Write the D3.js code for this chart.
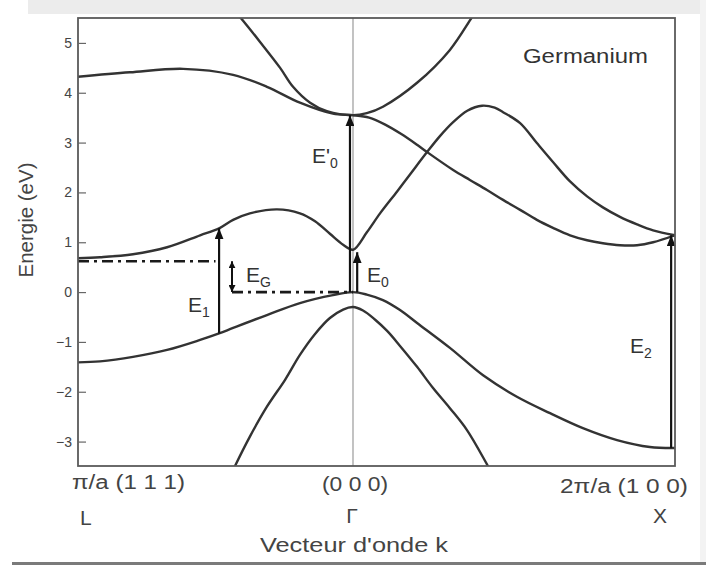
<!DOCTYPE html>
<html>
<head>
<meta charset="utf-8">
<script src="https://cdn.jsdelivr.net/npm/d3@7"></script>
<style>
  body { margin: 0; background: #fff; }
  svg { display: block; }
</style>
</head>
<body>
<svg id="chart" width="706" height="565"></svg>
<script>
// Band structure of germanium along L – Γ – X.
// k is measured along the path: L = -1, Γ = 0, X = +1. Energies in eV.

const yTicks = [-3, -2, -1, 0, 1, 2, 3, 4, 5];

// lowest conduction band (L valley, local minimum at Γ)
const bandCondLow = [
  [-1, 0.68], [-0.92, 0.70], [-0.80, 0.76], [-0.676, 0.90], [-0.556, 1.14],
  [-0.487, 1.28], [-0.436, 1.45], [-0.375, 1.58], [-0.276, 1.66], [-0.193, 1.58],
  [-0.138, 1.42], [-0.084, 1.17], [-0.036, 0.95], [0, 0.85],
  [0.043, 1.20], [0.084, 1.58], [0.137, 2.02], [0.177, 2.36], [0.230, 2.81],
  [0.270, 3.13], [0.311, 3.41], [0.355, 3.64], [0.401, 3.74], [0.440, 3.70],
  [0.466, 3.61], [0.519, 3.39], [0.571, 2.99], [0.621, 2.61], [0.674, 2.22],
  [0.727, 1.92], [0.776, 1.70], [0.829, 1.51], [0.882, 1.36], [0.932, 1.24],
  [1, 1.14]
];

// second conduction band (flat along Λ, crossing along Δ)
const bandCondMid = [
  [-1, 4.32], [-0.811, 4.41], [-0.618, 4.48], [-0.436, 4.36], [-0.313, 4.12],
  [-0.193, 3.80], [-0.073, 3.58], [0, 3.55], [0.05, 3.50], [0.10, 3.36],
  [0.15, 3.17], [0.20, 2.95], [0.230, 2.81], [0.311, 2.45], [0.363, 2.25],
  [0.416, 2.05], [0.466, 1.85], [0.519, 1.65], [0.571, 1.45], [0.621, 1.29],
  [0.674, 1.14], [0.727, 1.04], [0.776, 0.98], [0.829, 0.94], [0.882, 0.94],
  [0.932, 1.00], [1, 1.14]
];

// upper conduction band (parabola-like around Γ)
const bandCondHigh = [
  [-0.447, 5.75], [-0.411, 5.52], [-0.338, 5.02], [-0.265, 4.50], [-0.218, 4.12],
  [-0.156, 3.80], [-0.095, 3.63], [0, 3.55], [0.043, 3.59], [0.093, 3.72],
  [0.199, 4.20], [0.301, 4.86], [0.370, 5.52], [0.394, 5.75]
];

// top valence band (maximum at Γ)
const bandValTop = [
  [-1, -1.41], [-0.92, -1.39], [-0.80, -1.30], [-0.676, -1.16], [-0.556, -0.96],
  [-0.487, -0.83], [-0.436, -0.72], [-0.313, -0.46], [-0.193, -0.22],
  [-0.073, -0.06], [0, 0], [0.043, -0.05], [0.093, -0.16], [0.146, -0.36],
  [0.199, -0.62], [0.301, -1.12], [0.404, -1.67], [0.509, -2.10], [0.612, -2.43],
  [0.714, -2.73], [0.820, -2.97], [0.922, -3.11], [1, -3.13]
];

// second valence band (rounded peak just below the top at Γ)
const bandValLow = [
  [-0.455, -3.80], [-0.429, -3.49], [-0.375, -2.90], [-0.313, -2.30],
  [-0.247, -1.76], [-0.193, -1.26], [-0.138, -0.84], [-0.084, -0.52],
  [-0.036, -0.35], [0, -0.30], [0.031, -0.37], [0.068, -0.55], [0.106, -0.78],
  [0.146, -1.08], [0.199, -1.50], [0.248, -1.92], [0.301, -2.33],
  [0.354, -2.77], [0.419, -3.49], [0.45, -3.85]
];

const bands = [bandCondLow, bandCondMid, bandCondHigh, bandValTop, bandValLow];

// optical transitions: position along k, start and end energies
const transE1 = { k: -0.487, from: -0.83, to: 1.28 };
const transE0p = { k: -0.011, from: 0, to: 3.55 };
const transE0 = { k: 0.013, from: 0, to: 0.80 };
const transE2 = { k: 0.988, from: -3.13, to: 1.14 };
const gapEG = { k: -0.44, from: 0.62, to: 0 };

// reference levels of the indirect gap (conduction minimum at L, valence maximum at Γ)
const levelCondL = { k0: -1, k1: -0.50, e: 0.62 };
const levelValG = { k0: -0.44, k1: 0, e: 0 };

const svg = d3.select("#chart");
const W = 706, H = 565;
const fontFam = "'Liberation Sans', Arial, Helvetica, sans-serif";

// background tint at the edges of the sheet
svg.append("rect").attr("x", 0).attr("y", 0).attr("width", W).attr("height", H).attr("fill", "#fff");
svg.append("rect").attr("x", 28).attr("y", 0).attr("width", W - 28).attr("height", 14).attr("fill", "#ececec");
svg.append("rect").attr("x", 700).attr("y", 0).attr("width", 6).attr("height", H).attr("fill", "#f3f3f3");
svg.append("rect").attr("x", 12).attr("y", 562).attr("width", W - 12).attr("height", 3).attr("fill", "#7a7a7a");

const x = d3.scaleLinear().domain([-1, 0, 1]).range([78, 353, 675]);
const y = d3.scaleLinear().domain([-3.49, 5.50]).range([466, 18]);

const [x0, x1] = [x(-1), x(1)];
const [yTop, yBot] = [y(5.50), y(-3.49)];

const defs = svg.append("defs");
defs.append("clipPath").attr("id", "plotClip")
  .append("rect").attr("x", x0).attr("y", yTop).attr("width", x1 - x0).attr("height", yBot - yTop);

function marker(id, w, h) {
  defs.append("marker").attr("id", id)
    .attr("markerUnits", "userSpaceOnUse")
    .attr("markerWidth", w).attr("markerHeight", h)
    .attr("refX", w).attr("refY", h / 2)
    .attr("orient", "auto-start-reverse")
    .append("path").attr("d", `M0,0 L${w},${h / 2} L0,${h} Z`).attr("fill", "#111");
}
marker("head", 11, 9);
marker("headSmall", 7, 7);

// Γ line
svg.append("line")
  .attr("x1", x(0)).attr("x2", x(0)).attr("y1", yTop).attr("y2", yBot)
  .attr("stroke", "#9a9a9a").attr("stroke-width", 1.2);

// bands
const line = d3.line().x(d => x(d[0])).y(d => y(d[1])).curve(d3.curveCatmullRom.alpha(0.5));
svg.append("g").attr("clip-path", "url(#plotClip)")
  .selectAll("path").data(bands).join("path")
  .attr("d", line)
  .attr("fill", "none")
  .attr("stroke", "#333")
  .attr("stroke-width", 2.4)
  .attr("stroke-linejoin", "round");

// dash-dot reference levels
[levelCondL, levelValG].forEach(l => {
  svg.append("line")
    .attr("x1", x(l.k0)).attr("x2", x(l.k1)).attr("y1", y(l.e)).attr("y2", y(l.e))
    .attr("stroke", "#1a1a1a").attr("stroke-width", 2.6)
    .attr("stroke-dasharray", "11,5,3,5");
});

// transition arrows
[transE1, transE0p, transE0, transE2].forEach(t => {
  svg.append("line")
    .attr("x1", x(t.k)).attr("x2", x(t.k)).attr("y1", y(t.from)).attr("y2", y(t.to))
    .attr("stroke", "#111").attr("stroke-width", 2.2)
    .attr("marker-end", "url(#head)");
});
svg.append("line")
  .attr("x1", x(gapEG.k)).attr("x2", x(gapEG.k)).attr("y1", y(gapEG.from)).attr("y2", y(gapEG.to))
  .attr("stroke", "#111").attr("stroke-width", 2)
  .attr("marker-start", "url(#headSmall)")
  .attr("marker-end", "url(#headSmall)");

// frame
svg.append("rect")
  .attr("x", x0).attr("y", yTop).attr("width", x1 - x0).attr("height", yBot - yTop)
  .attr("fill", "none").attr("stroke", "#5a5a5a").attr("stroke-width", 1.8);

// energy axis with inward ticks
const yAxis = d3.axisLeft(y).tickValues(yTicks).tickSize(-8).tickPadding(6);
const gy = svg.append("g").attr("transform", `translate(${x0},0)`).call(yAxis);
gy.select(".domain").remove();
gy.selectAll(".tick line").attr("stroke", "#666").attr("stroke-width", 1.2);
gy.selectAll(".tick text")
  .attr("font-family", fontFam).attr("font-size", 14).attr("fill", "#444");

// text helpers
function label(txt, xp, yp, size, opts = {}) {
  const t = svg.append("text")
    .attr("x", xp).attr("y", yp)
    .attr("font-family", fontFam).attr("font-size", size)
    .attr("fill", opts.fill || "#333")
    .attr("text-anchor", opts.anchor || "start")
    .text(txt);
  if (opts.len) t.attr("textLength", opts.len).attr("lengthAdjust", "spacingAndGlyphs");
  return t;
}
function subLabel(main, sub, xp, yp) {
  const t = svg.append("text")
    .attr("x", xp).attr("y", yp)
    .attr("font-family", fontFam).attr("font-size", 21).attr("fill", "#333");
  t.append("tspan").text(main);
  t.append("tspan").attr("font-size", 14).attr("dy", 5).text(sub);
  return t;
}

label("Germanium", 523, 63, 20, { len: 125 });

svg.append("text")
  .attr("transform", "translate(33,220) rotate(-90)")
  .attr("font-family", fontFam).attr("font-size", 20).attr("fill", "#444")
  .attr("text-anchor", "middle")
  .attr("textLength", 115).attr("lengthAdjust", "spacingAndGlyphs")
  .text("Energie (eV)");

label("π/a (1 1 1)", 72, 489, 20, { len: 113, fill: "#444" });
label("(0 0 0)", 322, 491, 20, { len: 66, fill: "#444" });
label("2π/a (1 0 0)", 560, 493, 20, { len: 128, fill: "#444" });
label("L", 80, 525, 21, { fill: "#444" });
label("Γ", 352, 523, 21, { anchor: "middle", fill: "#444" });
label("X", 653, 523, 21, { fill: "#444" });
label("Vecteur d'onde k", 260, 552, 21, { len: 188, fill: "#444" });

subLabel("E'", "0", 312, 163);
subLabel("E", "G", 246, 282);
subLabel("E", "1", 188, 312);
subLabel("E", "0", 367, 282);
subLabel("E", "2", 630, 353);
</script>
</body>
</html>
